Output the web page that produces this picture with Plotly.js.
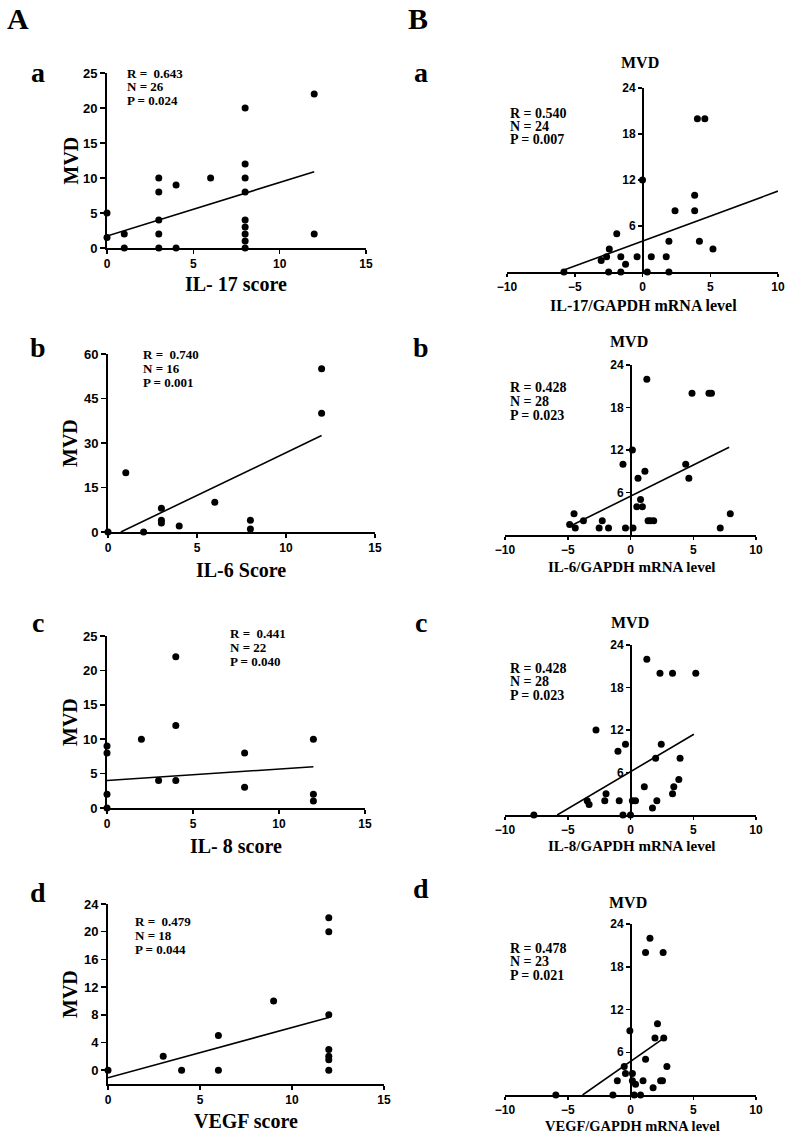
<!DOCTYPE html>
<html><head><meta charset="utf-8">
<script src="https://cdn.plot.ly/plotly-3.0.1.min.js"></script>
<style>html,body{margin:0;padding:0;background:#fff}</style>
</head><body>
<div id="chart" style="width:787px;height:1133px"></div>
<script>
// ---------- DATA ----------
// Column A: immunohistochemistry scores vs MVD
const aa_x = [0,0,1,1,3,3,3,3,3,4,4,6,8,8,8,8,8,8,8,8,8,12,12];
const aa_y = [5,1.5,2,0,10,8,4,2,0,9,0,10,20,12,10,8,4,3,2,1,0,22,2];
const aa_fit_x = [0,12];
const aa_fit_y = [1.7,10.9];

const ab_x = [0,1,2,3,3,3,4,6,8,8,12,12];
const ab_y = [0,20,0,8,4,3,2,10,4,1,55,40];
const ab_fit_x = [0.72,12];
const ab_fit_y = [0,32.5];

const ac_x = [0,0,0,0,2,3,4,4,4,8,8,12,12,12];
const ac_y = [9,8,2,0,10,4,22,12,4,8,3,10,2,1];
const ac_fit_x = [0,12];
const ac_fit_y = [4.0,6.0];

const ad_x = [0,3,4,6,6,9,12,12,12,12,12,12,12];
const ad_y = [0,2,0,5,0,10,22,20,8,3,2,1.5,0];
const ad_fit_x = [0,12];
const ad_fit_y = [-1.1,7.6];

// Column B: mRNA levels vs MVD
const ba_x = [-5.8,-3.05,-2.65,-2.45,-1.9,-1.6,-1.25,-0.4,0.65,1.75,1.95,2.4,3.85,3.85,4.2,5.2,4.05,4.6,0,-2.5,-1.6,0.35,1.95];
const ba_y = [0,1.5,2,3,5,2,1,2,2,2,4,8,10,8,4,3,20,20,12,0,0,0,0];
const ba_fit_x = [-5.8,10];
const ba_fit_y = [0.25,10.55];

const bb_x = [-4.85,-4.5,-4.4,-3.75,-2.5,-2.25,-1.75,-0.6,-0.4,0.15,0.2,0.5,0.6,0.8,0.95,1.15,1.3,1.4,1.6,1.85,4.4,4.65,4.9,6.25,6.45,7.15,7.95];
const bb_y = [1.5,3,1,2,1,2,1,10,1,12,1,4,8,5,4,9,22,2,2,2,10,8,20,20,20,1,3];
const bb_fit_x = [-4.75,7.86];
const bb_fit_y = [1.3,12.4];

const bc_x = [-7.7,-3.45,-3.3,-2.75,-2.05,-1.95,-1,-0.9,-0.6,-0.4,0,0.15,0.4,1.1,1.3,1.75,2,2.1,2.35,2.45,3.35,3.35,3.45,3.85,3.95,5.2];
const bc_y = [0,2,1.5,12,2,3,9,2,0,10,0,2,2,4,22,1,8,2,20,10,20,3,4,5,8,20];
const bc_fit_x = [-5.84,5.05];
const bc_fit_y = [0,11.4];

const bd_x = [-5.95,-1.4,-1.05,-0.5,-0.4,-0.05,0.15,0.15,0.4,0.3,0.8,1,1.2,1.8,1.95,2.15,2.4,2.55,2.65,2.9,1.55,1.2,2.6];
const bd_y = [0,0,2,4,3,9,3,2,1.5,0,0,2,5,1,8,10,2,2,8,4,22,20,20];
const bd_fit_x = [-3.82,2.66];
const bd_fit_y = [0,7.97];

const statsA = [["R =  0.643","N = 26","P = 0.024"],["R =  0.740","N = 16","P = 0.001"],["R =  0.441","N = 22","P = 0.040"],["R =  0.479","N = 18","P = 0.044"]];
const statsB = [["R = 0.540","N = 24","P = 0.007"],["R = 0.428","N = 28","P = 0.023"],["R = 0.428","N = 28","P = 0.023"],["R = 0.478","N = 23","P = 0.021"]];
const xTitlesA = ["IL- 17 score","IL-6 Score","IL- 8 score","VEGF score"];
const xTitlesB = ["IL-17/GAPDH mRNA level","IL-6/GAPDH mRNA level","IL-8/GAPDH mRNA level","VEGF/GAPDH mRNA level"];
const yTitle = "MVD";
const panelLetters = ["a","b","c","d"];

// ---------- LAYOUT HELPERS ----------
const W = 787, H = 1133;
const xd = (a,b) => [a/W, b/W];
const yd = (bottom, top) => [1 - bottom/H, 1 - top/H];
const serif = 'Liberation Serif, Times New Roman, serif';
const sans = 'Liberation Sans, Arial, sans-serif';

function axis(extra, fs){
  return Object.assign({
    showline:true, linewidth:2, linecolor:'#000', mirror:false,
    ticks:'outside', ticklen:5, tickwidth:1.5, tickcolor:'#000',
    showgrid:false, zeroline:false, fixedrange:true,
    tickfont:{family:sans, size:fs, color:'#000', weight:'bold'}
  }, extra);
}

const traces = [];
function addPanel(n, xs, ys, fx, fy){
  const xa = n===1 ? 'x' : 'x'+n, ya = n===1 ? 'y' : 'y'+n;
  traces.push({type:'scatter', mode:'markers', x:xs, y:ys, xaxis:xa, yaxis:ya,
    marker:{color:'#000', size:7}, cliponaxis:false, hoverinfo:'x+y'});
  traces.push({type:'scatter', mode:'lines', x:fx, y:fy, xaxis:xa, yaxis:ya,
    line:{color:'#000', width:1.6}, cliponaxis:false, hoverinfo:'skip'});
}
addPanel(1, aa_x, aa_y, aa_fit_x, aa_fit_y);
addPanel(2, ab_x, ab_y, ab_fit_x, ab_fit_y);
addPanel(3, ac_x, ac_y, ac_fit_x, ac_fit_y);
addPanel(4, ad_x, ad_y, ad_fit_x, ad_fit_y);
addPanel(5, ba_x, ba_y, ba_fit_x, ba_fit_y);
addPanel(6, bb_x, bb_y, bb_fit_x, bb_fit_y);
addPanel(7, bc_x, bc_y, bc_fit_x, bc_fit_y);
addPanel(8, bd_x, bd_y, bd_fit_x, bd_fit_y);

// pixel geometry of each panel
const geomA = [
  {x0:107, x1:366, yb:248, yt:73,  yr:[0,25],  yt_v:[0,5,10,15,20,25]},
  {x0:108, x1:375, yb:532, yt:354, yr:[0,60],  yt_v:[0,15,30,45,60]},
  {x0:107, x1:365, yb:808, yt:636, yr:[0,25],  yt_v:[0,5,10,15,20,25]},
  {x0:108, x1:384, yb:1084, yt:904, yr:[-2,24], yt_v:[0,4,8,12,16,20,24]}
];
const geomB = [
  {x0:507, x1:778, yb:272,  yt:88,  zero:643},
  {x0:505, x1:756, yb:535,  yt:365, zero:631},
  {x0:505, x1:756, yb:815,  yt:645, zero:631},
  {x0:505, x1:756, yb:1095, yt:924, zero:631}
];

const layout = {
  width:W, height:H, margin:{l:0,r:0,t:0,b:0},
  paper_bgcolor:'#fff', plot_bgcolor:'rgba(0,0,0,0)', showlegend:false,
  annotations:[]
};
geomA.forEach((g,i)=>{
  const n=i+1, xk = n===1?'xaxis':'xaxis'+n, yk = n===1?'yaxis':'yaxis'+n;
  layout[xk] = axis({domain:xd(g.x0,g.x1), range:[0,15], tickvals:[0,5,10,15], anchor: n===1?'y':'y'+n, ticklen:4}, 12);
  layout[yk] = axis({domain:yd(g.yb,g.yt), range:g.yr, tickvals:g.yt_v, anchor: n===1?'x':'x'+n}, 13);
});
geomB.forEach((g,i)=>{
  const n=i+5;
  layout['xaxis'+n] = axis({domain:xd(g.x0,g.x1), range:[-10,10], tickvals:[-10,-5,0,5,10], anchor:'y'+n, ticklen:3}, 12);
  layout['yaxis'+n] = axis({domain:yd(g.yb,g.yt), range:[0,24], tickvals:[6,12,18,24], anchor:'free', position:g.zero/W, ticklen:4}, 12);
});

function ann(text, px, py, size, family, extra){
  layout.annotations.push(Object.assign({
    text:text, xref:'paper', yref:'paper', x:px/W, y:1-py/H,
    xanchor:'center', yanchor:'middle', showarrow:false, borderpad:0,
    font:{family:family, size:size, color:'#000', weight:'bold'}
  }, extra||{}));
}
// big panel labels
ann('A', 18, 18, 30, serif);
ann('B', 418, 18, 30, serif);
const letterYA = [72,347,622,892], letterYB = [72,347,622,888];
panelLetters.forEach((t,i)=>{ ann(t, 38, letterYA[i], 28, serif); ann(t, 421, letterYB[i], 28, serif); });

// column A titles and stats
const statPosA = [[126,73],[142,354],[229,633],[134,921]];
const xTitlePosA = [[236,284],[241,570],[236,846],[246,1121]];
geomA.forEach((g,i)=>{
  ann(xTitlesA[i], xTitlePosA[i][0], xTitlePosA[i][1], 20, serif);
  ann(yTitle, 70, (g.yb+g.yt)/2, 20, serif, {textangle:-90});
  statsA[i].forEach((s,k)=> ann(s, statPosA[i][0], statPosA[i][1]+k*14, 13, serif, {xanchor:'left'}));
});
// column B titles and stats
const statPosB = [[509,113],[509,388],[509,668],[509,948]];
const mvdPosB = [[640,62],[629,342],[630,622],[628,902]];
const xTitlePosB = [[643,305],[631,567],[631,846],[632,1126]];
const xTitleSizeB = [16,15,15,14.5];
geomB.forEach((g,i)=>{
  ann(xTitlesB[i], xTitlePosB[i][0], xTitlePosB[i][1], xTitleSizeB[i], serif);
  ann(yTitle, mvdPosB[i][0], mvdPosB[i][1], 16, serif);
  statsB[i].forEach((s,k)=> ann(s, statPosB[i][0], statPosB[i][1]+k*13.5, 14, serif, {xanchor:'left'}));
});

Plotly.newPlot('chart', traces, layout, {displayModeBar:false, staticPlot:true});
</script>
</body></html>
